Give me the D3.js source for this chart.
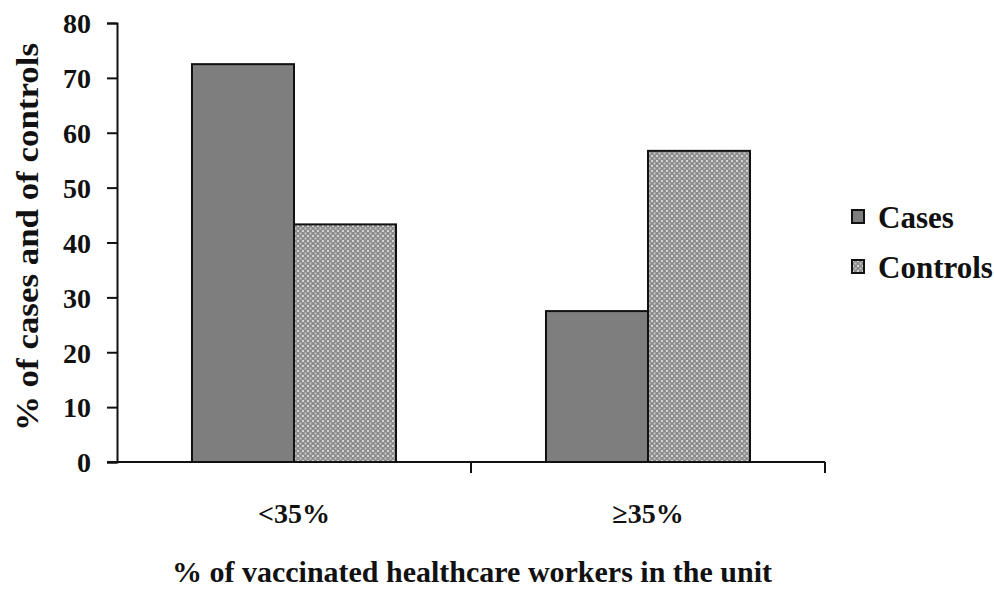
<!DOCTYPE html>
<html>
<head>
<meta charset="utf-8">
<script src="https://cdn.jsdelivr.net/npm/d3@7/dist/d3.min.js"></script>
<style>
  html, body { margin: 0; padding: 0; background: #fff; }
  svg { display: block; }
  text { font-family: "Liberation Serif", "Times New Roman", serif; font-weight: bold; fill: #111; }
</style>
</head>
<body>
<script>
// Share of cases and controls by unit vaccination coverage
const categories = ["<35%", "\u226535%"];
const series = ["Cases", "Controls"];
const casesValues = [72.5, 27.5];
const controlsValues = [43.3, 56.7];
const yTicks = [0, 10, 20, 30, 40, 50, 60, 70, 80];
const yTitle = "% of cases and of controls";
const xTitle = "% of vaccinated healthcare workers in the unit";

const W = 994, H = 590;
const plot = { left: 117, right: 825, top: 23, bottom: 462 };

const svg = d3.select("body").append("svg").attr("width", W).attr("height", H);

// Checkered fill used for the Controls series
const defs = svg.append("defs");
const pat = defs.append("pattern")
  .attr("id", "checker").attr("patternUnits", "userSpaceOnUse")
  .attr("width", 5).attr("height", 5);
pat.append("rect").attr("width", 5).attr("height", 5).attr("fill", "#8c8c8c");
pat.append("rect").attr("x", 0).attr("y", 0).attr("width", 2).attr("height", 2).attr("fill", "#d4d4d4");
pat.append("rect").attr("x", 2.5).attr("y", 2.5).attr("width", 2).attr("height", 2).attr("fill", "#c4c4c4");

const fills = { Cases: "#7e7e7e", Controls: "url(#checker)" };

const x = d3.scaleBand().domain(categories).range([plot.left, plot.right]).padding(0);
const xs = d3.scaleBand().domain(series).range([0, x.bandwidth()]).paddingInner(0).paddingOuter(0.735);
const y = d3.scaleLinear().domain([0, 80]).range([plot.bottom, plot.top]);

const rows = categories.map((c, i) => ({
  category: c,
  values: [
    { key: "Cases", value: casesValues[i] },
    { key: "Controls", value: controlsValues[i] }
  ]
}));

// Bars
const groups = svg.append("g").selectAll("g").data(rows).join("g")
  .attr("transform", d => `translate(${x(d.category)},0)`);
groups.selectAll("rect").data(d => d.values).join("rect")
  .attr("x", d => xs(d.key))
  .attr("y", d => y(d.value))
  .attr("width", xs.bandwidth())
  .attr("height", d => y(0) - y(d.value))
  .attr("fill", d => fills[d.key])
  .attr("stroke", "#111")
  .attr("stroke-width", 2);

// Y axis
const yAxis = svg.append("g").attr("transform", `translate(${plot.left},0)`)
  .call(d3.axisLeft(y).tickValues(yTicks).tickSize(10).tickPadding(16).tickFormat(d3.format("d")));
yAxis.attr("font-family", null);
yAxis.select(".domain").attr("stroke", "#111").attr("stroke-width", 2);
yAxis.selectAll(".tick line").attr("stroke", "#111").attr("stroke-width", 2);
yAxis.selectAll(".tick text").attr("font-size", 28).attr("fill", "#111").attr("dy", "0.35em");

// X axis: ticks sit on the category boundaries
const boundaries = [x(categories[1]), plot.right];
const xAxisG = svg.append("g");
xAxisG.append("line")
  .attr("x1", plot.left - 10).attr("x2", plot.right)
  .attr("y1", y(0)).attr("y2", y(0))
  .attr("stroke", "#111").attr("stroke-width", 2);
xAxisG.selectAll("line.tk").data(boundaries).join("line").attr("class", "tk")
  .attr("x1", d => d).attr("x2", d => d)
  .attr("y1", y(0)).attr("y2", y(0) + 11)
  .attr("stroke", "#111").attr("stroke-width", 2);
xAxisG.selectAll("text").data(categories).join("text")
  .attr("x", d => x(d) + x.bandwidth() / 2)
  .attr("y", 523)
  .attr("text-anchor", "middle")
  .attr("font-size", 28)
  .text(d => d);

// Axis titles
svg.append("text")
  .attr("x", 472).attr("y", 582)
  .attr("text-anchor", "middle")
  .attr("font-size", 29)
  .attr("textLength", 600)
  .attr("lengthAdjust", "spacingAndGlyphs")
  .text(xTitle);

svg.append("text")
  .attr("transform", `translate(38,237) rotate(-90)`)
  .attr("text-anchor", "middle")
  .attr("font-size", 31)
  .attr("textLength", 388)
  .attr("lengthAdjust", "spacingAndGlyphs")
  .text(yTitle);

// Legend
const legend = svg.append("g").attr("transform", "translate(852,210)");
const li = legend.selectAll("g").data(series).join("g")
  .attr("transform", (d, i) => `translate(0,${i * 50})`);
li.append("rect")
  .attr("width", 12).attr("height", 13)
  .attr("fill", d => fills[d])
  .attr("stroke", "#111").attr("stroke-width", 2);
li.append("text")
  .attr("x", 26).attr("y", 18)
  .attr("font-size", 31)
  .text(d => d);
</script>
</body>
</html>
